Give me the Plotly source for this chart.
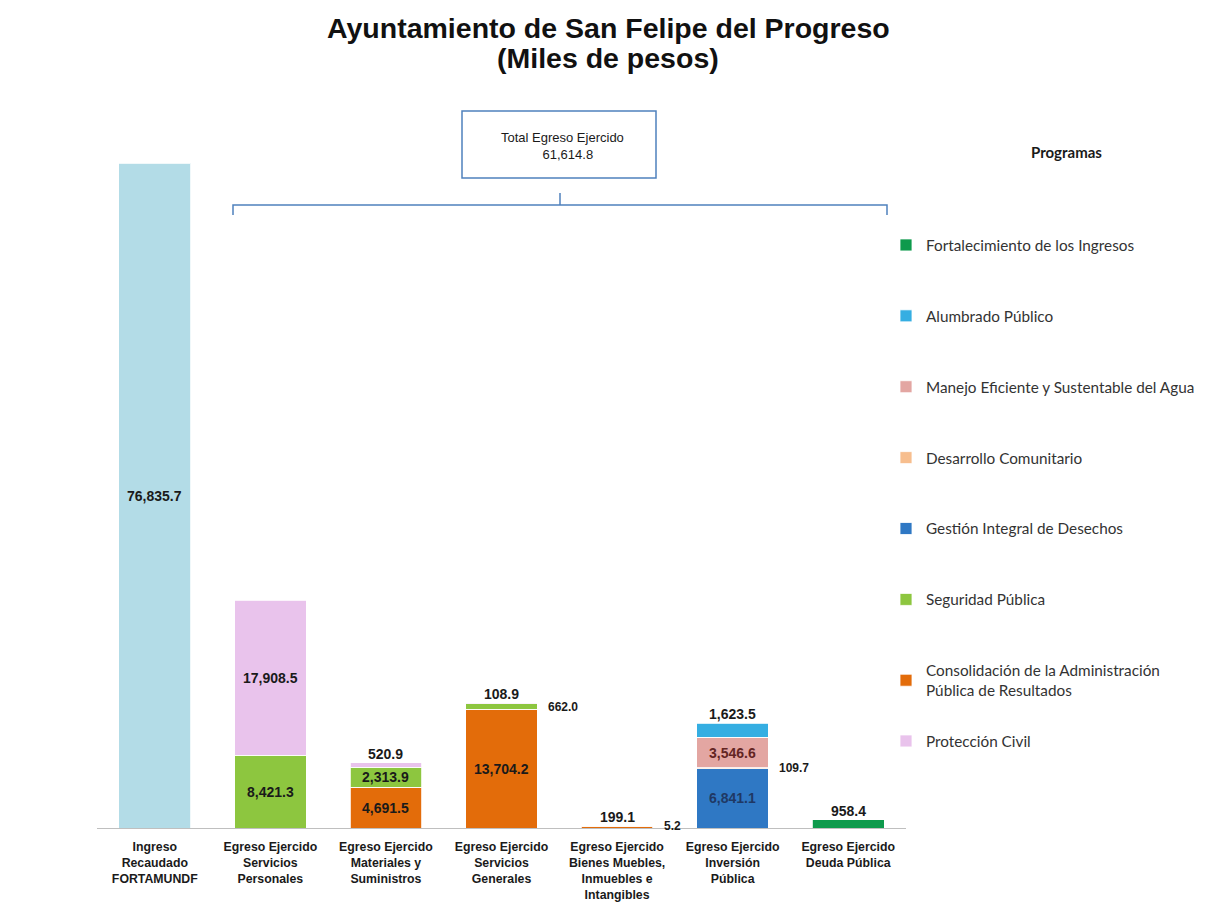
import plotly.graph_objects as go

# ---------------- data ----------------
categories = [
    "Ingreso<br>Recaudado<br>FORTAMUNDF",
    "Egreso Ejercido<br>Servicios<br>Personales",
    "Egreso Ejercido<br>Materiales y<br>Suministros",
    "Egreso Ejercido<br>Servicios<br>Generales",
    "Egreso Ejercido<br>Bienes Muebles,<br>Inmuebles e<br>Intangibles",
    "Egreso Ejercido<br>Inversión<br>Pública",
    "Egreso Ejercido<br>Deuda Pública",
]
ingreso = [76835.7, None, None, None, None, None, None]
consolidacion = [None, None, 4691.5, 13704.2, 199.1, None, None]
seguridad = [None, 8421.3, 2313.9, 662.0, 5.2, None, None]
proteccion = [None, 17908.5, 520.9, 108.9, None, None, None]
gestion = [None, None, None, None, None, 6841.1, None]
desarrollo = [None, None, None, None, None, 109.7, None]
manejo = [None, None, None, None, None, 3546.6, None]
alumbrado = [None, None, None, None, None, 1623.5, None]
fortalecimiento = [None, None, None, None, None, None, 958.4]
total_egreso = 61614.8
title_lines = ["Ayuntamiento de San Felipe del Progreso", "(Miles de pesos)"]

# ---------------- styling ----------------
CONSOL = "Consolidación de la Administración<br>Pública de Resultados"
series = [
    # name, values, color, legendrank, label text colour, legend id
    ("Ingreso", ingreso, "#B3DCE7", None, "#1a1a1a", "legend"),
    (CONSOL, consolidacion, "#E36C0A", 7, "#1a1a1a", "legend"),
    ("Seguridad Pública", seguridad, "#8DC63F", 6, "#1a1a1a", "legend"),
    ("Protección Civil", proteccion, "#E9C3EC", 8, "#1a1a1a", "legend2"),
    ("Gestión Integral de Desechos", gestion, "#2F78C4", 5, "#1F3864", "legend"),
    ("Desarrollo Comunitario", desarrollo, "#F7BE8E", 4, "#1a1a1a", "legend"),
    ("Manejo Eficiente y Sustentable del Agua", manejo, "#E3A6A2", 3, "#632523", "legend"),
    ("Alumbrado Público", alumbrado, "#35AEE2", 2, "#1a1a1a", "legend"),
    ("Fortalecimiento de los Ingresos", fortalecimiento, "#0E9A4C", 1, "#1a1a1a", "legend"),
]
# label placement for small segments: (series name, category index) -> mode
placement = {
    ("Protección Civil", 2): "above",
    ("Protección Civil", 3): "above",
    ("Seguridad Pública", 3): "right",
    (CONSOL, 4): "above",
    ("Seguridad Pública", 4): "right",
    ("Desarrollo Comunitario", 5): "right",
    ("Alumbrado Público", 5): "above",
    ("Fortalecimiento de los Ingresos", 6): "above",
}

W, H = 1206, 907
ML, MR, MT, MB = 97, 300, 136, 79
PW, PH = W - ML - MR, H - MT - MB
LBL_FONT = "Liberation Sans, Arial, sans-serif"


def px(xp):
    return (xp - ML) / PW


def py(yp):
    return (H - MB - yp) / PH


def paper_text(xp, yp, text, size, color="#1a1a1a", family=LBL_FONT, **kw):
    return dict(x=px(xp), y=py(yp), xref="paper", yref="paper", text=text, showarrow=False,
                xanchor="center", yanchor="middle", align="center",
                font=dict(size=size, color=color, family=family), **kw)


fig = go.Figure()
annotations = []
base = [0.0] * len(categories)
for name, vals, color, rank, tcol, leg in series:
    fig.add_trace(go.Bar(
        x=categories, y=vals, name=name,
        marker=dict(color=color, line=dict(color="rgba(255,255,255,0.8)", width=1)),
        showlegend=rank is not None,
        legendrank=rank if rank is not None else 1000,
        legendgroup=name,
        legend=leg,
    ))
    for i, v in enumerate(vals):
        if v is None:
            continue
        txt = f"<b>{v:,.1f}</b>"
        mode = placement.get((name, i), "center")
        if mode == "center":
            annotations.append(dict(x=categories[i], y=base[i] + v / 2, text=txt,
                                    showarrow=False, xanchor="center", yanchor="middle",
                                    font=dict(size=14, color=tcol, family=LBL_FONT)))
        elif mode == "above":
            annotations.append(dict(x=categories[i], y=base[i] + v, text=txt,
                                    showarrow=False, xanchor="center", yanchor="bottom", yshift=-1,
                                    font=dict(size=14, color="#1a1a1a", family=LBL_FONT)))
        else:
            annotations.append(dict(x=i + 0.3, xref="x", y=base[i] + v / 2, text=txt,
                                    showarrow=False, xanchor="left", yanchor="middle", xshift=10,
                                    font=dict(size=12, color="#1a1a1a", family=LBL_FONT)))
        base[i] += v

# title (two lines, as in the reference)
annotations.append(paper_text(608, 28, f"<b>{title_lines[0]}</b>", 28.5, "#111111"))
annotations.append(paper_text(608, 58, f"<b>{title_lines[1]}</b>", 28.5, "#111111"))
# total box text
annotations.append(paper_text(562, 146, f"Total Egreso Ejercido<br>   {total_egreso:,.1f}", 13))
# legend heading
annotations.append(paper_text(1066, 152, "<b>Programas</b>", 15, family="Lato, sans-serif"))

shapes = [
    dict(type="rect", xref="paper", yref="paper", x0=px(462), x1=px(656), y0=py(178), y1=py(111),
         line=dict(color="#4F81BD", width=1.5), fillcolor="white", layer="below"),
    dict(type="line", xref="paper", yref="paper", x0=px(560), x1=px(560), y0=py(193), y1=py(205),
         line=dict(color="#4F81BD", width=1.5)),
    dict(type="path", xref="paper", yref="paper",
         path=f"M {px(233)},{py(215)} L {px(233)},{py(205)} L {px(887)},{py(205)} L {px(887)},{py(215)}",
         line=dict(color="#4F81BD", width=1.5)),
]

legend_style = dict(font=dict(size=15.3, color="#333333", family="Lato, sans-serif"),
                    itemwidth=30, bgcolor="rgba(0,0,0,0)", xanchor="left", yanchor="middle")

fig.update_layout(
    width=W, height=H,
    margin=dict(l=ML, r=MR, t=MT, b=MB, autoexpand=False),
    barmode="stack", bargap=0.38,
    plot_bgcolor="white", paper_bgcolor="white",
    xaxis=dict(showline=True, linecolor="#BFBFBF", linewidth=1, ticks="", automargin=False,
               ticklabelstandoff=7,
               tickfont=dict(size=12.3, color="#1a1a1a", family=LBL_FONT, weight="bold"),
               range=[-0.5, 6.5]),
    yaxis=dict(visible=False, range=[0, 80000], showgrid=False),
    legend=dict(x=px(886), y=py(468), tracegroupgap=48, **legend_style),
    legend2=dict(x=px(886), y=py(741), **legend_style),
    annotations=annotations,
    shapes=shapes,
)

fig.write_html("out.html", config={"displayModeBar": False},
               post_script="document.body.style.margin='0';")
